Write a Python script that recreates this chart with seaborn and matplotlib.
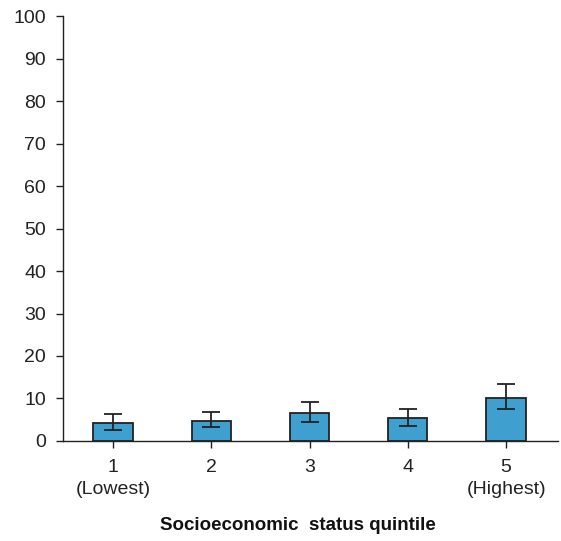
import matplotlib
matplotlib.use("Agg")
import matplotlib.pyplot as plt
import seaborn as sns
import numpy as np
import pandas as pd

categories = ["1\n(Lowest)", "2", "3", "4", "5\n(Highest)"]
values = [4.2, 4.7, 6.6, 5.3, 10.1]
err_low = [2.6, 3.2, 4.4, 3.5, 7.5]
err_high = [6.3, 6.8, 9.2, 7.5, 13.5]
yticks = [0, 10, 20, 30, 40, 50, 60, 70, 80, 90, 100]

sns.set_style("white")
plt.rcParams['font.family'] = ['Liberation Sans', 'DejaVu Sans']

fig = plt.figure(figsize=(5.61, 5.41), dpi=100)
ax = fig.add_axes([0.112, 0.185, 0.883, 0.785])

df = pd.DataFrame({"q": categories, "v": values})
sns.barplot(data=df, x="q", y="v", color="#3F9FCF", saturation=1,
            edgecolor="#222222", linewidth=1.3, width=0.4, ax=ax)

pos = np.arange(len(values))
vals = np.array(values)
yerr = [vals - np.array(err_low), np.array(err_high) - vals]
ax.errorbar(pos, vals, yerr=yerr, fmt="none", ecolor="#222222",
            elinewidth=1.3, capsize=6.5, capthick=1.3, zorder=5)

ax.set_xlim(-0.51, 4.53)
ax.set_ylim(0, 100)
ax.set_yticks(yticks)
ax.set_yticklabels([str(t) for t in yticks], fontsize=14, color="#222222")
ax.set_xticks(pos)
ax.set_xticklabels(categories, fontsize=14, color="#222222", linespacing=1.4)
ax.set_ylabel("")
ax.set_xlabel("Socioeconomic  status quintile", fontsize=13.5,
              fontweight="bold", color="#111111")
ax.xaxis.set_label_coords(0.474, -0.18)

for s in ["top", "right"]:
    ax.spines[s].set_visible(False)
for s in ["left", "bottom"]:
    ax.spines[s].set_color("#222222")
    ax.spines[s].set_linewidth(1.0)
ax.tick_params(axis="y", direction="out", length=5, width=1.0,
               color="#222222", left=True, pad=7)
ax.tick_params(axis="x", direction="out", length=5, width=1.0,
               color="#222222", bottom=True, pad=8)

fig.savefig("out.png", dpi=100)
